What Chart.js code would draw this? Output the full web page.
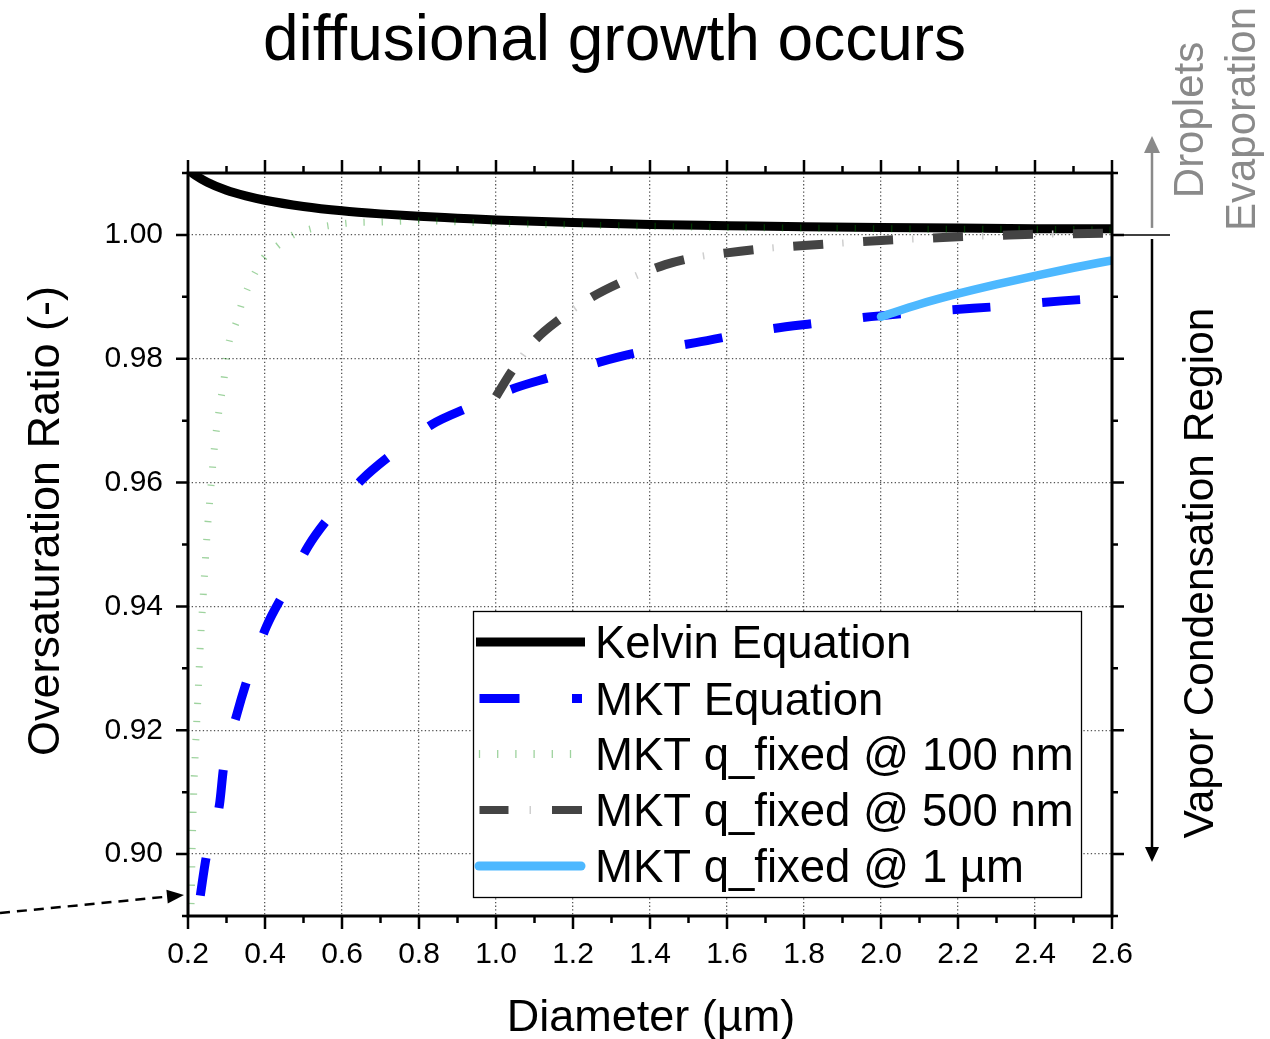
<!DOCTYPE html>
<html><head><meta charset="utf-8">
<script src="https://cdn.jsdelivr.net/npm/chart.js@4.4.1/dist/chart.umd.min.js"></script>
<style>html,body{margin:0;padding:0;background:#fff;overflow:hidden}</style>
</head><body>
<canvas id="c" width="1270" height="1039"></canvas>
<script>
// ---------- data ----------
const kelvinX = [0.2, 0.22, 0.25, 0.3, 0.35, 0.4, 0.5, 0.6, 0.7, 0.8, 0.9, 1.0, 1.2, 1.4, 1.6, 1.8, 2.0, 2.2, 2.4, 2.6];
const kelvinY = [1.0105, 1.0096, 1.0085, 1.0072, 1.0063, 1.0056, 1.0046, 1.0039, 1.0034, 1.0030, 1.0027, 1.0024, 1.0020, 1.0017, 1.0015, 1.0013, 1.0012, 1.0011, 1.0010, 1.0010];

const mktX = [0.232, 0.247, 0.282, 0.2925, 0.327, 0.356, 0.404, 0.451, 0.512, 0.569, 0.652, 0.738, 0.834, 0.928, 1.05, 1.146, 1.271, 1.375, 1.519, 1.701, 1.84, 1.944, 2.079, 2.18, 2.318, 2.419, 2.558, 2.6];
const mktY = [0.8933, 0.8994, 0.9081, 0.9140, 0.9226, 0.9286, 0.9368, 0.9424, 0.9497, 0.9546, 0.9605, 0.9650, 0.9694, 0.9721, 0.9753, 0.9771, 0.9795, 0.9811, 0.9826, 0.9847, 0.9858, 0.9866, 0.9874, 0.9879, 0.9885, 0.9891, 0.9897, 0.9898];

const q100X = [0.2065, 0.2083, 0.211, 0.2151, 0.2188, 0.2255, 0.2318, 0.2404, 0.249, 0.2604, 0.269, 0.2802, 0.288, 0.295, 0.2995, 0.308, 0.3255, 0.3385, 0.3557, 0.3758, 0.3966, 0.4297, 0.4729, 0.5208, 0.5659, 0.612, 0.704, 0.8, 0.9, 1.0, 1.2, 1.4, 1.6, 1.8, 2.0, 2.2, 2.4, 2.6];
const q100Y = [0.8890, 0.8929, 0.9016, 0.9105, 0.9162, 0.9250, 0.9337, 0.9426, 0.9512, 0.9600, 0.9659, 0.9715, 0.9745, 0.9774, 0.9801, 0.9831, 0.9859, 0.9887, 0.9915, 0.9941, 0.9963, 0.9981, 1.0000, 1.0010, 1.0015, 1.0019, 1.0021, 1.0023, 1.0021, 1.0019, 1.0016, 1.0014, 1.0012, 1.0011, 1.0010, 1.0009, 1.0009, 1.0008];

const q500X = [1.0, 1.04, 1.10, 1.17, 1.245, 1.32, 1.44, 1.51, 1.6, 1.7, 1.8, 1.9, 2.0, 2.1, 2.2, 2.3, 2.4, 2.5, 2.6];
const q500Y = [0.9739, 0.9779, 0.9829, 0.9866, 0.9898, 0.9922, 0.9952, 0.9963, 0.9971, 0.9978, 0.9983, 0.9987, 0.9991, 0.9994, 0.9997, 0.9999, 1.0001, 1.0002, 1.0003];

const q1umX = [2.0, 2.1, 2.2, 2.3, 2.4, 2.5, 2.6];
const q1umY = [0.9868, 0.9888, 0.9905, 0.9920, 0.9934, 0.9947, 0.9959];

const xTickLabels = ['0.2','0.4','0.6','0.8','1.0','1.2','1.4','1.6','1.8','2.0','2.2','2.4','2.6'];
const yTickLabels = ['0.90','0.92','0.94','0.96','0.98','1.00'];
const legendLabels = ['Kelvin Equation','MKT Equation','MKT q_fixed @ 100 nm','MKT q_fixed @ 500 nm','MKT q_fixed @ 1 µm'];
const titleText = 'diffusional growth occurs';
const xTitle = 'Diameter (µm)';
const yTitle = 'Oversaturation Ratio (-)';
// ------------------------------------------------

const FONT = "'Liberation Sans', Arial, Helvetica, sans-serif";
Chart.defaults.font.family = FONT;
const pts = (xs, ys) => xs.map((x, i) => ({x: x, y: ys[i]}));
const isMajorX = v => xTickLabels.includes(v.toFixed(1));
const isMajorY = v => yTickLabels.includes(v.toFixed(2));

const C_BLUE = '#0000ff', C_GRAY = '#444444', C_LBLUE = '#4db8ff', C_GREEN = 'rgba(0,140,0,0.38)', C_BLACK = '#000';

function arrow(ctx, x1, y1, x2, y2, color, lw, dash, headLen, headHalf) {
  const dx = x2 - x1, dy = y2 - y1, L = Math.hypot(dx, dy);
  const ux = dx / L, uy = dy / L;
  const bx = x2 - ux * headLen, by = y2 - uy * headLen;
  ctx.save();
  ctx.strokeStyle = color; ctx.fillStyle = color; ctx.lineWidth = lw;
  ctx.setLineDash(dash || []);
  ctx.beginPath(); ctx.moveTo(x1, y1); ctx.lineTo(bx + ux * 2, by + uy * 2); ctx.stroke();
  ctx.setLineDash([]);
  ctx.beginPath();
  ctx.moveTo(x2, y2);
  ctx.lineTo(bx - uy * headHalf, by + ux * headHalf);
  ctx.lineTo(bx + uy * headHalf, by - ux * headHalf);
  ctx.closePath(); ctx.fill();
  ctx.restore();
}
function vtext(ctx, str, baseX, cy, size, color) {
  ctx.save();
  ctx.translate(baseX, cy); ctx.rotate(-Math.PI / 2);
  ctx.font = size + 'px ' + FONT; ctx.fillStyle = color;
  ctx.textAlign = 'center'; ctx.textBaseline = 'alphabetic';
  ctx.fillText(str, 0, 0);
  ctx.restore();
}

const decor = {
  id: 'decor',
  afterDraw(chart) {
    const {ctx, chartArea: a, scales: {x, y}} = chart;
    ctx.save();
    // frame
    ctx.strokeStyle = '#000'; ctx.lineWidth = 3; ctx.setLineDash([]);
    ctx.strokeRect(a.left, a.top, a.right - a.left, a.bottom - a.top);
    // ticks on all four sides (outward)
    ctx.lineWidth = 2.5;
    ctx.beginPath();
    x.ticks.forEach(t => {
      const px = x.getPixelForValue(t.value), L = isMajorX(t.value) ? 13 : 7;
      ctx.moveTo(px, a.bottom); ctx.lineTo(px, a.bottom + L);
      ctx.moveTo(px, a.top); ctx.lineTo(px, a.top - L);
    });
    y.ticks.forEach(t => {
      const py = y.getPixelForValue(t.value), L = isMajorY(t.value) ? 12 : 6;
      ctx.moveTo(a.left, py); ctx.lineTo(a.left - L, py);
      ctx.moveTo(a.right, py); ctx.lineTo(a.right + L, py);
    });
    ctx.stroke();

    // legend
    const lx = 473.5, ly = 611.5, lw = 608, lh = 286;
    ctx.fillStyle = '#fff'; ctx.fillRect(lx, ly, lw, lh);
    ctx.strokeStyle = '#000'; ctx.lineWidth = 1.3; ctx.strokeRect(lx, ly, lw, lh);
    const rows = [642, 698.5, 754, 810, 866];
    // Kelvin
    ctx.strokeStyle = C_BLACK; ctx.lineWidth = 9; ctx.lineCap = 'butt';
    ctx.beginPath(); ctx.moveTo(476, rows[0]); ctx.lineTo(585, rows[0]); ctx.stroke();
    // MKT
    ctx.fillStyle = C_BLUE;
    ctx.fillRect(479.5, rows[1] - 4.5, 40, 9);
    ctx.fillRect(572, rows[1] - 4.5, 10, 9);
    // 100 nm
    ctx.strokeStyle = C_GREEN; ctx.lineWidth = 1.3;
    ctx.beginPath();
    for (let k = 0; k < 6; k++) { const tx = 479.5 + k * 18.2; ctx.moveTo(tx, rows[2] - 4); ctx.lineTo(tx, rows[2] + 4); }
    ctx.stroke();
    // 500 nm
    ctx.fillStyle = C_GRAY;
    ctx.fillRect(479.5, rows[3] - 4, 29, 8);
    ctx.fillRect(552, rows[3] - 4, 30, 8);
    ctx.fillStyle = '#cfcfcf'; ctx.fillRect(529.5, rows[3] - 4, 1.5, 8);
    // 1 um
    ctx.strokeStyle = C_LBLUE; ctx.lineWidth = 9; ctx.lineCap = 'round';
    ctx.beginPath(); ctx.moveTo(479, rows[4]); ctx.lineTo(581, rows[4]); ctx.stroke();
    ctx.lineCap = 'butt';
    ctx.fillStyle = '#000'; ctx.font = '45.5px ' + FONT; ctx.textAlign = 'left'; ctx.textBaseline = 'alphabetic';
    legendLabels.forEach((s, i) => ctx.fillText(s, 595, rows[i] + 16));

    // right-side annotations
    const y1 = y.getPixelForValue(1.0);
    ctx.strokeStyle = '#000'; ctx.lineWidth = 1.5;
    ctx.beginPath(); ctx.moveTo(a.right, y1); ctx.lineTo(1170, y1); ctx.stroke();
    arrow(ctx, 1152, y1 - 7, 1152, 136, '#8a8a8a', 2.5, null, 17, 8);
    arrow(ctx, 1152, y1 + 4, 1152, 862, '#000', 2.5, null, 15, 7);
    vtext(ctx, 'Droplets', 1203, 120, 42, '#8a8a8a');
    vtext(ctx, 'Evaporation', 1255, 119, 42, '#8a8a8a');
    vtext(ctx, 'Vapor Condensation Region', 1213, 573, 42.5, '#000');

    // dashed arrow bottom-left
    arrow(ctx, 0, 913, 184, 895, '#000', 2.5, [10, 7], 17, 7);

    // titles
    ctx.fillStyle = '#000'; ctx.textAlign = 'center'; ctx.textBaseline = 'alphabetic';
    ctx.font = '64px ' + FONT; ctx.fillText(titleText, 614.5, 60);
    ctx.font = '45px ' + FONT; ctx.fillText(xTitle, 651, 1031);
    vtext(ctx, yTitle, 59, 521, 45, '#000');
    ctx.restore();
  }
};

new Chart(document.getElementById('c'), {
  type: 'line',
  data: {
    datasets: [
      {label: legendLabels[4], data: pts(q1umX, q1umY), borderColor: C_LBLUE, borderWidth: 8.5, borderCapStyle: 'round', order: 0},
      {label: legendLabels[3], data: pts(q500X, q500Y), borderColor: C_GRAY, borderWidth: 9, borderDash: [30, 40], order: 1},
      {label: 'dot', data: pts(q500X, q500Y), borderColor: '#cfcfcf', borderWidth: 7, borderDash: [1.5, 68.5], borderDashOffset: -49, order: 1.5},
      {label: legendLabels[1], data: pts(mktX, mktY), borderColor: C_BLUE, borderWidth: 9, borderDash: [38, 52], order: 2},
      {label: legendLabels[2], data: pts(q100X, q100Y), borderColor: C_GREEN, borderWidth: 7, borderDash: [1.3, 16.9], order: 3},
      {label: legendLabels[0], data: pts(kelvinX, kelvinY), borderColor: C_BLACK, borderWidth: 9, order: 4}
    ]
  },
  options: {
    responsive: false, animation: false, devicePixelRatio: 1,
    layout: {padding: {left: 0, top: 173, right: 158, bottom: 0}},
    plugins: {legend: {display: false}, tooltip: {enabled: false}},
    elements: {point: {radius: 0}, line: {cubicInterpolationMode: 'monotone', borderJoinStyle: 'round', fill: false}},
    scales: {
      x: {
        type: 'linear', min: 0.2, max: 2.6,
        afterFit(s) { s.height = 123; },
        ticks: {stepSize: 0.1, autoSkip: false, maxRotation: 0, minRotation: 0, padding: 9, color: '#000', font: {size: 30},
          callback: v => isMajorX(v) ? v.toFixed(1) : ''},
        grid: {color: c => (c.tick && isMajorX(c.tick.value)) ? '#555' : 'rgba(0,0,0,0)', lineWidth: 1.3, drawTicks: true, tickLength: 12, tickColor: 'rgba(0,0,0,0)'},
        border: {display: false, dash: [1.3, 2.4]}
      },
      y: {
        type: 'linear', min: 0.89, max: 1.01,
        afterFit(s) { s.width = 188; },
        ticks: {stepSize: 0.01, autoSkip: false, padding: 13, color: '#000', font: {size: 30},
          callback: v => isMajorY(v) ? v.toFixed(2) : ''},
        grid: {color: c => (c.tick && isMajorY(c.tick.value)) ? '#555' : 'rgba(0,0,0,0)', lineWidth: 1.3, drawTicks: true, tickLength: 12, tickColor: 'rgba(0,0,0,0)'},
        border: {display: false, dash: [1.3, 2.4]}
      }
    }
  },
  plugins: [decor]
});
</script>
</body></html>
